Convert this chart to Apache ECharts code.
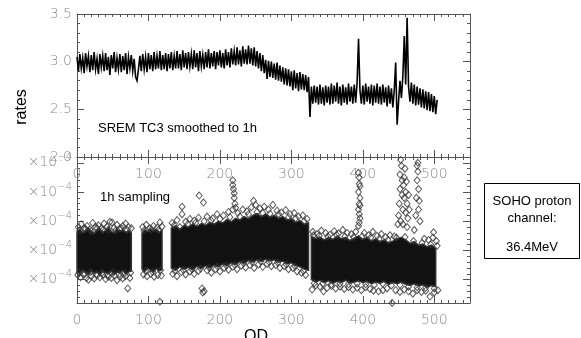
<!DOCTYPE html>
<html><head><meta charset="utf-8">
<script src="https://cdn.jsdelivr.net/npm/echarts@6/dist/echarts.min.js"></script>
<style>html,body{margin:0;padding:0;background:#fff}#c{width:581px;height:338px}</style>
</head><body><div id="c"></div>
<script>
// ---------- DATA ----------
const xTicks = [0, 100, 200, 300, 400, 500];
const topYTicks = [2.0, 2.5, 3.0, 3.5];
const bottomYMajor = [1.0, 1.5, 2.0, 2.5, 3.0];
const bottomYMinor = [0.7,0.8,0.9,1.1,1.2,1.3,1.4,1.6,1.7,1.8,1.9,2.1,2.2,2.3,2.4,2.6,2.7,2.8,2.9,3.0];

// SREM TC3 smoothed to 1h, sampled every 2 OD starting at OD 0
const sremStartOD = 0, sremStepOD = 2;
const sremRate = [
3.05,2.90,3.08,2.93,3.04,2.88,3.09,2.95,3.06,2.89,
3.07,2.91,3.10,2.92,3.03,2.87,3.08,2.94,3.06,2.90,
3.09,2.91,3.05,2.86,3.07,2.93,3.10,2.89,3.04,2.92,
3.08,2.89,3.06,2.91,3.09,2.87,3.05,2.93,3.07,2.90,
3.03,2.84,2.80,2.92,3.06,2.90,3.08,2.92,3.05,2.89,
3.09,2.92,3.07,2.90,3.10,2.92,3.06,2.93,3.11,2.91,
3.07,2.92,3.09,2.90,3.08,2.93,3.10,2.91,3.06,2.93,
3.11,2.93,3.08,2.91,3.12,2.94,3.09,2.92,3.10,2.95,
3.08,2.92,3.12,2.94,3.09,2.90,3.11,2.95,3.07,2.92,
3.10,2.94,3.13,2.93,3.09,2.95,3.11,2.92,3.10,2.96,
3.12,2.94,3.09,2.93,3.13,2.96,3.10,2.94,3.14,2.97,
3.11,2.96,3.15,2.97,3.12,2.95,3.16,2.98,3.13,2.97,
3.17,2.98,3.14,2.96,3.15,2.95,3.11,2.93,3.09,2.90,
3.07,2.88,3.02,2.82,3.01,2.84,3.00,2.83,2.98,2.81,
2.99,2.80,2.96,2.79,2.94,2.76,2.93,2.75,2.92,2.74,
2.90,2.70,2.91,2.72,2.88,2.69,2.89,2.71,2.87,2.70,
2.86,2.68,2.84,2.42,2.74,2.56,2.75,2.57,2.74,2.55,
2.76,2.56,2.73,2.54,2.75,2.57,2.74,2.55,2.77,2.56,
2.75,2.58,2.78,2.56,2.74,2.54,2.76,2.57,2.73,2.55,
2.77,2.58,2.74,2.56,2.76,2.57,2.78,3.24,2.70,2.56,
2.75,2.55,2.77,2.58,2.74,2.56,2.76,2.54,2.75,2.57,
2.77,2.56,2.74,2.55,2.76,2.57,2.73,2.53,2.75,2.56,
2.72,2.52,2.70,2.99,2.34,2.58,2.80,2.62,2.84,3.27,
2.76,3.46,2.74,2.58,2.78,2.56,2.76,2.54,2.74,2.55,
2.72,2.52,2.71,2.51,2.69,2.49,2.68,2.48,2.66,2.47,
2.64,2.45,2.60
];

// SOHO proton 1h sampling (units of 1e-4): dense core envelope (null = data gap)
const sohoBandOD = [
0,4,8,12,16,20,24,28,32,36,40,44,48,52,56,60,64,68,72,76, null,
91,95,99,103,107,111,115,119, null,
132,138,144,150,156,162,168,174,180,186,192,198,204,210,216,222,228,234,240,246,252,258,264,270,276,282,288,294,300,306,312,318,324, null,
328,334,340,346,352,358,364,370,376,382,388,394,400,406,412,418,424,430,436,442,448,454,460,466,472,478,484,490,496,502
];
const sohoBandUpper = [
1.82,1.86,1.80,1.84,1.88,1.83,1.79,1.85,1.87,1.81,1.84,1.89,1.82,1.80,1.86,1.83,1.85,1.81,1.84,1.80, null,
1.80,1.85,1.82,1.87,1.83,1.86,1.81,1.84, null,
1.88,1.92,1.86,1.93,1.90,1.95,1.91,1.96,1.93,1.98,1.95,2.00,1.97,2.03,1.99,2.05,2.02,2.08,2.04,2.10,2.13,2.08,2.12,2.07,2.10,2.05,2.08,2.02,2.04,1.98,2.01,1.95,1.97, null,
1.74,1.70,1.73,1.68,1.72,1.69,1.74,1.70,1.72,1.67,1.71,1.75,1.69,1.72,1.66,1.70,1.65,1.68,1.63,1.66,1.70,1.72,1.68,1.62,1.65,1.59,1.61,1.56,1.59,1.54
];
const sohoBandLower = [
1.14,1.10,1.16,1.12,1.09,1.15,1.11,1.13,1.08,1.14,1.12,1.10,1.15,1.09,1.13,1.11,1.16,1.10,1.13,1.15, null,
1.18,1.14,1.20,1.16,1.13,1.19,1.15,1.17, null,
1.20,1.16,1.22,1.18,1.21,1.17,1.23,1.19,1.24,1.20,1.25,1.22,1.27,1.24,1.29,1.26,1.31,1.28,1.33,1.30,1.34,1.31,1.35,1.32,1.34,1.30,1.32,1.27,1.29,1.24,1.22,1.18,1.16, null,
1.00,0.96,0.99,0.95,0.98,0.94,0.97,0.95,0.99,0.94,0.96,0.98,0.95,0.97,0.93,0.96,0.94,0.97,0.92,0.95,0.93,0.96,0.92,0.90,0.93,0.89,0.91,0.87,0.90,0.88
];
// individually visible diamonds [OD, rate]
const sohoPoints = [
[2,1.90],[6,1.95],[10,1.88],[14,1.92],[18,1.86],[22,1.97],[26,1.90],[30,1.93],[34,1.88],[38,1.96],[42,1.91],[46,1.99],[49,1.98],[52,1.89],[56,1.94],[60,1.87],[64,1.92],[68,1.96],[72,1.90],[76,1.88],
[4,1.84],[12,1.87],[20,1.83],[28,1.88],[36,1.85],[44,1.86],[54,1.84],[62,1.88],[70,1.85],
[1,1.08],[5,1.04],[9,1.09],[13,1.03],[16,1.00],[20,1.06],[24,1.02],[28,1.07],[32,1.04],[36,1.08],[40,1.01],[44,1.05],[48,1.03],[52,1.07],[56,0.99],[60,1.05],[64,1.02],[68,1.06],[71,0.85],[74,1.03],
[3,1.12],[11,1.10],[19,1.13],[27,1.09],[35,1.12],[43,1.08],[51,1.13],[59,1.10],[67,1.11],[75,1.12],
[92,1.90],[97,1.94],[102,1.88],[107,1.92],[112,1.89],[116,1.98],[119,1.91],[94,1.84],[104,1.86],[114,1.85],
[93,1.09],[98,1.06],[103,1.10],[108,1.05],[113,1.08],[116,0.62],[118,1.07],[96,1.15],[106,1.13],[117,1.16],
[133,1.97],[140,2.02],[147,2.12],[147,2.25],[152,1.99],[158,2.04],[164,2.01],[171,2.44],[177,2.32],[170,2.06],[182,2.08],[190,2.05],[196,2.12],[205,2.10],[212,2.16],
[136,1.93],[144,1.90],[155,1.95],[166,1.97],[178,2.00],[188,2.01],[200,2.04],[214,2.07],[228,2.08],[240,2.12],[252,2.16],[260,2.14],[270,2.13],[282,2.12],[296,2.07],[306,2.05],[318,2.00],
[218,2.70],[218,2.62],[219,2.55],[220,2.48],[220,2.40],[221,2.30],[222,2.23],[218,2.20],[225,2.14],[232,2.20],[238,2.17],[244,2.24],[247,2.35],[250,2.28],[256,2.22],[262,2.25],[268,2.20],[274,2.28],[280,2.18],[286,2.15],[292,2.19],[298,2.12],[304,2.14],[310,2.08],[316,2.10],[322,2.04],
[134,1.10],[140,1.06],[146,1.13],[152,1.09],[158,1.14],[164,1.10],[170,1.15],[175,0.85],[176,0.78],[178,0.80],[182,1.16],[188,1.12],[194,1.18],[200,1.14],[206,1.20],[212,1.17],[218,1.22],[224,1.18],[230,1.24],[236,1.21],[242,1.25],[248,1.20],[254,1.26],[260,1.22],[266,1.27],[272,1.23],[278,1.25],[284,1.20],[290,1.23],[296,1.18],[302,1.20],[308,1.14],[314,1.12],[320,1.08],
[137,1.15],[149,1.16],[161,1.18],[173,1.19],[185,1.21],[197,1.22],[209,1.24],[221,1.25],[233,1.28],[245,1.30],[257,1.31],[269,1.30],[281,1.29],[293,1.26],[305,1.23],[317,1.15],
[330,1.82],[336,1.78],[342,1.84],[348,1.80],[354,1.77],[360,1.83],[366,1.79],[372,1.85],[378,1.80],[384,1.78],[390,1.82],
[331,1.76],[339,1.75],[351,1.74],[363,1.77],[375,1.74],[387,1.73],[399,1.74],[411,1.72],[423,1.70],[435,1.68],[447,1.72],[459,1.73],[471,1.66],[483,1.63],[495,1.60],[504,1.58],
[394,2.83],[395,2.75],[395,2.64],[396,2.60],[394,2.50],[396,2.40],[395,2.30],[396,2.27],[394,2.20],[395,2.12],[396,2.05],[395,1.98],[394,1.92],
[402,1.80],[408,1.76],[414,1.82],[420,1.75],[426,1.78],[432,1.73],[438,1.76],[444,1.74],
[450,2.10],[451,2.30],[452,2.55],[452,2.80],[453,3.05],[454,2.95],[455,2.70],[455,2.45],[456,2.20],[456,1.95],[457,2.62],[458,2.75],[458,2.40],[459,2.90],[460,2.50],[460,2.15],[461,2.68],[462,2.30],[462,1.90],[463,2.05],[464,2.45],[465,2.20],[449,1.95],[453,2.00],
[472,1.85],[474,2.10],[475,2.40],[476,2.70],[476,2.95],[477,3.00],[477,2.85],[478,2.55],[478,2.20],[479,2.35],[480,2.00],
[486,1.70],[492,1.68],[498,1.72],[503,1.66],[499,1.81],
[329,0.83],[334,0.90],[340,0.88],[345,0.80],[350,0.86],[356,0.89],[362,0.85],[368,0.88],[374,0.84],[380,0.87],[386,0.83],[392,0.86],[398,0.82],[404,0.87],[410,0.84],[415,0.81],[422,0.80],[428,0.82],[434,0.85],[441,0.60],[446,0.82],[452,0.79],[458,0.83],[464,0.80],[470,0.76],[476,0.82],[482,0.79],[488,0.81],[494,0.71],[500,0.78],[505,0.82],
[332,0.94],[344,0.93],[356,0.92],[368,0.93],[380,0.92],[392,0.93],[404,0.92],[416,0.91],[428,0.93],[440,0.90],[452,0.91],[464,0.88],[476,0.87],[488,0.86],[500,0.85]
];

// ---------- CHART ----------
const chart = echarts.init(document.getElementById('c'), null, {renderer: 'canvas'});
const AX = '#555';
const LBL = '#8a8a8a';
const FONT = '"DejaVu Sans"';
const TXT = '"Liberation Sans", Arial, sans-serif';

function xAx(grid, pos, showLabel) {
  return {
    type: 'value', gridIndex: grid, position: pos, min: 0, max: 550, interval: 100,
    axisLine: {show: true, onZero: false, lineStyle: {color: AX, width: 1}},
    axisTick: {show: true, inside: true, length: 7, lineStyle: {color: AX}},
    minorTick: {show: true, splitNumber: 10, length: 3, lineStyle: {color: AX}},
    axisLabel: {show: showLabel, margin: 10, color: LBL, fontFamily: FONT, fontSize: 14, fontWeight: 200,
      customValues: xTicks},
    splitLine: {show: false}, minorSplitLine: {show: false}
  };
}
function yTop(pos, showLabel) {
  return {
    type: 'value', gridIndex: 0, position: pos, min: 2.0, max: 3.5, interval: 0.5,
    axisLine: {show: true, onZero: false, lineStyle: {color: AX, width: 1}},
    axisTick: {show: true, inside: true, length: 7, lineStyle: {color: AX}},
    minorTick: {show: true, splitNumber: 5, length: 3, lineStyle: {color: AX}},
    axisLabel: {show: showLabel, margin: 5, color: LBL, fontFamily: FONT, fontSize: 14, fontWeight: 200,
      customValues: topYTicks, formatter: v => v.toFixed(1)},
    splitLine: {show: false}
  };
}
function yBot(pos, showLabel, major) {
  return {
    type: 'value', gridIndex: 1, position: pos, min: 0.6, max: 3.1,
    axisLine: {show: major, onZero: false, lineStyle: {color: AX, width: 1}},
    axisTick: {show: true, inside: true, length: major ? 7 : 3, lineStyle: {color: AX},
      customValues: major ? bottomYMajor : bottomYMinor},
    axisLabel: {show: showLabel, margin: 5, color: LBL, fontFamily: FONT, fontSize: 14, fontWeight: 200,
      customValues: bottomYMajor,
      formatter: () => '×10{s|−4}',
      rich: {s: {fontSize: 10, fontFamily: FONT, color: LBL, padding: [0, 0, 10, 0]}}},
    splitLine: {show: false}
  };
}

const sremData = sremRate.map((v, i) => [sremStartOD + i * sremStepOD, v]);

const option = {
  animation: false,
  backgroundColor: '#fff',
  grid: [
    {left: 77, width: 393, top: 14, height: 143, containLabel: false, outerBoundsMode: 'none'},
    {left: 77, width: 393, top: 157, height: 146, containLabel: false, outerBoundsMode: 'none'}
  ],
  xAxis: [xAx(0, 'bottom', true), xAx(0, 'top', false), xAx(1, 'bottom', true), xAx(1, 'top', false)],
  yAxis: [yTop('left', true), yTop('right', false),
          yBot('left', true, true), yBot('left', false, false),
          yBot('right', false, true), yBot('right', false, false)],
  series: [
    {
      type: 'line', xAxisIndex: 0, yAxisIndex: 0, data: sremData,
      showSymbol: false, symbol: 'none', sampling: false,
      lineStyle: {color: '#000', width: 1.6, join: 'miter'}, z: 3
    },
    {
      type: 'custom', xAxisIndex: 2, yAxisIndex: 2, coordinateSystem: 'cartesian2d',
      data: [[0], [1], [2], [3]],
      renderItem: function (params, api) {
        const seg = api.value(0);
        let segs = [], cur = [];
        for (let i = 0; i < sohoBandOD.length; i++) {
          if (sohoBandOD[i] === null) { segs.push(cur); cur = []; }
          else cur.push(i);
        }
        segs.push(cur);
        const idx = segs[seg];
        if (!idx || !idx.length) return null;
        const pts = [];
        idx.forEach(i => pts.push(api.coord([sohoBandOD[i], sohoBandUpper[i]])));
        idx.slice().reverse().forEach(i => pts.push(api.coord([sohoBandOD[i], sohoBandLower[i]])));
        return {type: 'polygon', shape: {points: pts}, style: {fill: '#111', stroke: '#333', lineWidth: 1.5}};
      },
      z: 2
    },
    {
      type: 'scatter', xAxisIndex: 2, yAxisIndex: 2, data: sohoPoints,
      symbol: 'diamond', symbolSize: [6, 7],
      itemStyle: {color: 'rgba(0,0,0,0)', borderColor: '#333', borderWidth: 1},
      z: 3
    }
  ],
  graphic: [
    {type: 'text', x: 22, y: 107, rotation: Math.PI / 2,
     style: {text: 'rates', font: '16px ' + TXT, fill: '#000', textAlign: 'center', textVerticalAlign: 'middle'}},
    {type: 'text', x: 98, y: 128,
     style: {text: 'SREM TC3 smoothed to 1h', font: '13px ' + TXT, fill: '#000', textAlign: 'left', textVerticalAlign: 'middle'}},
    {type: 'text', x: 100, y: 197,
     style: {text: '1h sampling', font: '13px ' + TXT, fill: '#000', textAlign: 'left', textVerticalAlign: 'middle'}},
    {type: 'text', x: 256, y: 329,
     style: {text: 'OD', font: '16px ' + TXT, fill: '#000', textAlign: 'center', textVerticalAlign: 'top'}},
    {type: 'rect', shape: {x: 484.5, y: 183.5, width: 95, height: 75},
     style: {fill: '#fff', stroke: '#000', lineWidth: 1}},
    {type: 'text', x: 532, y: 201,
     style: {text: 'SOHO proton', font: '13px ' + TXT, fill: '#000', textAlign: 'center', textVerticalAlign: 'middle'}},
    {type: 'text', x: 532, y: 218,
     style: {text: 'channel:', font: '13px ' + TXT, fill: '#000', textAlign: 'center', textVerticalAlign: 'middle'}},
    {type: 'text', x: 532, y: 247,
     style: {text: '36.4MeV', font: '13px ' + TXT, fill: '#000', textAlign: 'center', textVerticalAlign: 'middle'}}
  ]
};
chart.setOption(option);
</script>
</body></html>
